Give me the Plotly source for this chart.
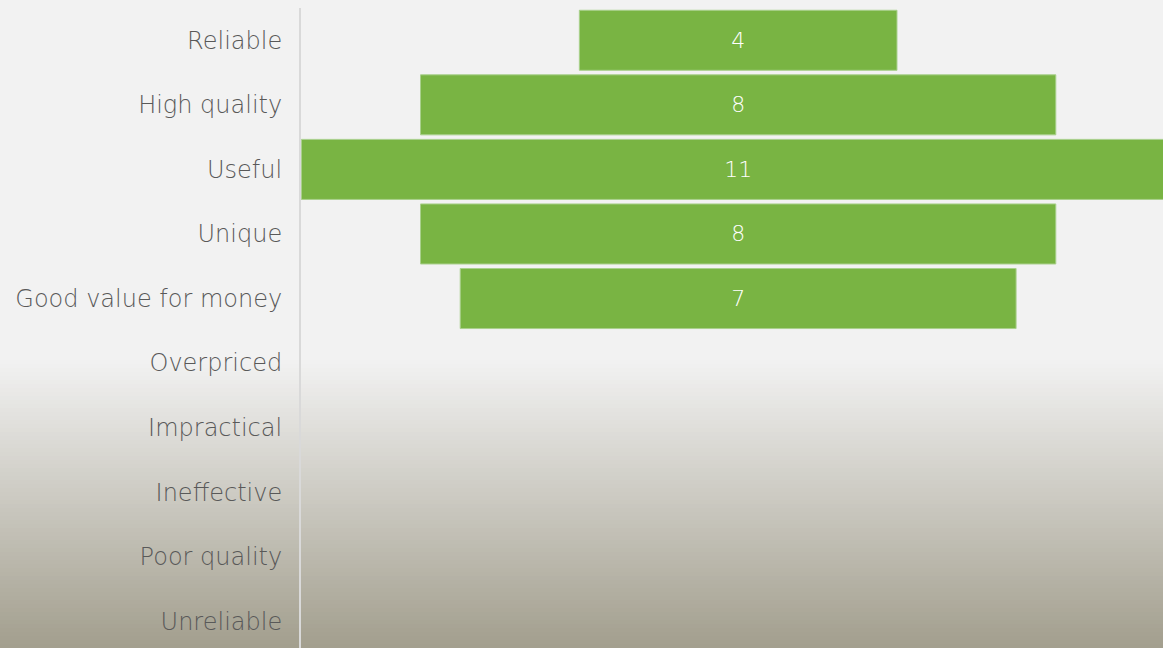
import plotly.graph_objects as go

categories = ["Reliable", "High quality", "Useful", "Unique", "Good value for money",
              "Overpriced", "Impractical", "Ineffective", "Poor quality", "Unreliable"]
counts = [4, 8, 11, 8, 7, 0, 0, 0, 0, 0]

FONT = "DejaVu Sans"
W, H = 1163, 648
ML, MT = 301, 8

shown = [(c, v) for c, v in zip(categories, counts) if v > 0]

fig = go.Figure()
fig.add_trace(go.Funnel(
    y=[c for c, _ in shown],
    x=[v for _, v in shown],
    text=[str(v) for _, v in shown],
    textinfo="text",
    textposition="inside",
    insidetextanchor="middle",
    textfont=dict(family=FONT, size=22, color="white", weight=300),
    marker=dict(color="#79b443", line=dict(color="#a9d08c", width=1)),
    connector=dict(visible=False),
    hoverinfo="skip",
    constraintext="none",
))

# background gradient (lower part of the slide)
shapes = []
g_top, g_bot = 360, 648
n = 72
c0 = (242, 242, 242)
c1 = (162, 158, 141)
for i in range(n):
    y0 = g_top + (g_bot - g_top) * i / n
    y1 = g_top + (g_bot - g_top) * (i + 1) / n + 0.5
    f = (i + 0.5) / n
    col = tuple(round(a + (b - a) * f) for a, b in zip(c0, c1))
    ph = H - MT
    shapes.append(dict(
        type="rect", xref="paper", yref="paper", layer="below",
        x0=-ML / (W - ML) - 0.01, x1=1.01,
        y0=1 - (y1 - MT) / ph, y1=1 - (y0 - MT) / ph,
        fillcolor="rgb(%d,%d,%d)" % col, line=dict(width=0),
    ))

fig.update_layout(
    width=W, height=H,
    margin=dict(l=ML, r=0, t=MT, b=0),
    paper_bgcolor="#f2f2f2",
    plot_bgcolor="rgba(0,0,0,0)",
    funnelgap=0.07,
    showlegend=False,
    shapes=shapes,
    font=dict(family=FONT, color="#595959"),
)
fig.update_xaxes(visible=False, range=[-5.505, 5.35], fixedrange=True)
fig.update_yaxes(
    categoryorder="array", categoryarray=categories,
    range=[9.413, -0.5], autorange=False, fixedrange=True,
    showline=True, linecolor="#d9d9d9", linewidth=2,
    showgrid=False, zeroline=False, ticks="",
    ticklabelstandoff=12,
    tickfont=dict(family=FONT, size=24, color="#595959", weight=300),
)

fig.write_html(
    "out.html",
    config={"displayModeBar": False},
    post_script="document.body.style.margin='0';document.body.style.background='#f2f2f2';",
)
